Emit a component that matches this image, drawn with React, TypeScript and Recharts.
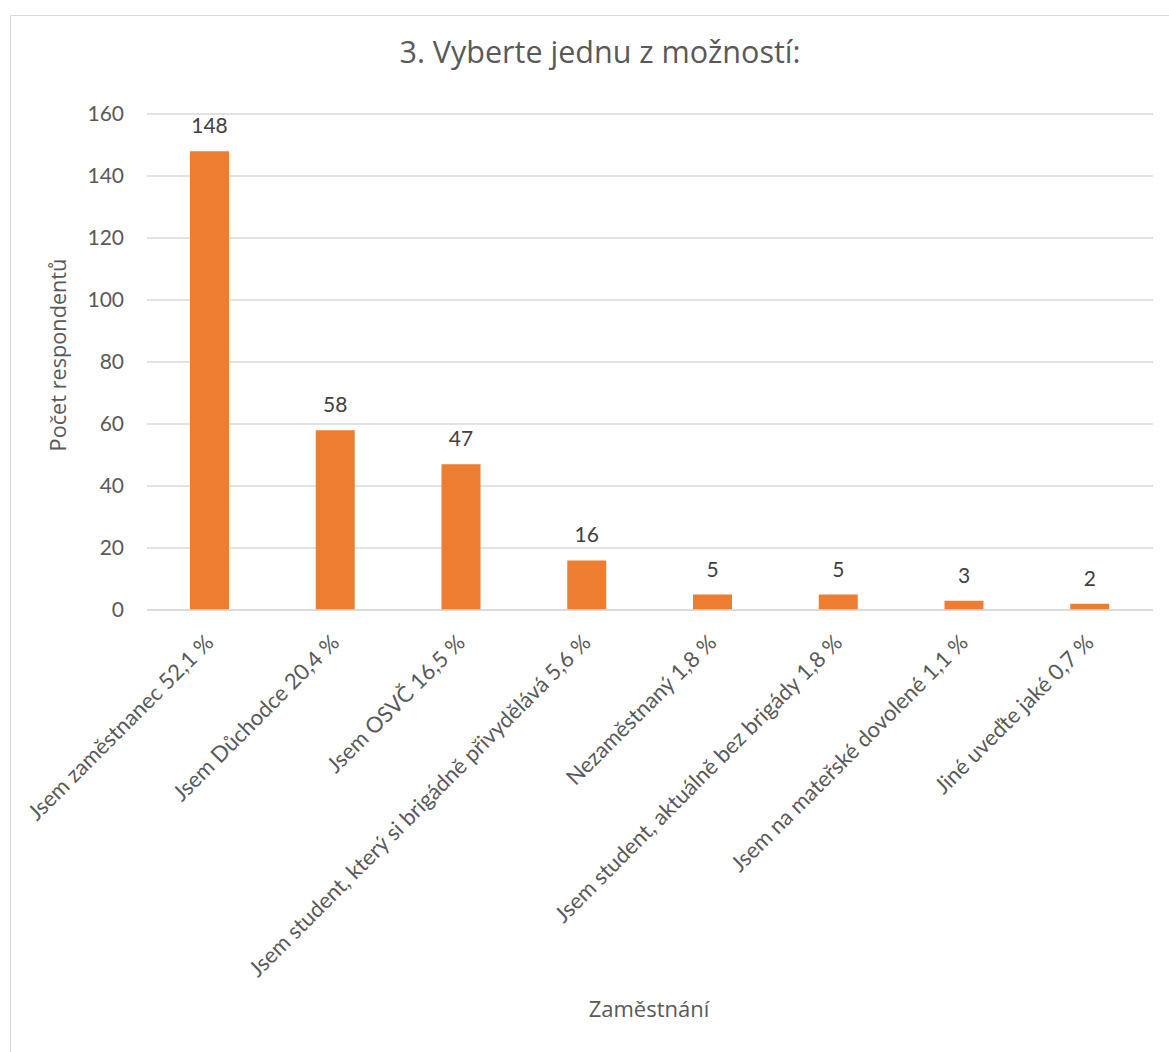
import { BarChart, Bar, XAxis, YAxis, CartesianGrid, LabelList } from 'recharts';

const categories = [
  'Jsem zaměstnanec 52,1 %',
  'Jsem Důchodce 20,4 %',
  'Jsem OSVČ 16,5 %',
  'Jsem student, který si brigádně přivydělává 5,6 %',
  'Nezaměstnaný 1,8 %',
  'Jsem student, aktuálně bez brigády 1,8 %',
  'Jsem na mateřské dovolené 1,1 %',
  'Jiné uveďte jaké 0,7 %',
];
const counts = [148, 58, 47, 16, 5, 5, 3, 2];
const yTicks = [0, 20, 40, 60, 80, 100, 120, 140, 160];

const chartTitle = '3. Vyberte jednu z možností:';
const xTitle = 'Zaměstnání';
const yTitle = 'Počet respondentů';

const data = categories.map((name, i) => ({ name, value: counts[i] }));

const FONT = 'Lato, "Open Sans", sans-serif';
const TITLE_FONT = '"Open Sans", Lato, sans-serif';
const TEXT = '#595959';

function RotatedTick(props: any) {
  const { x, y, payload } = props;
  const tx = x + 5;
  return (
    <text
      x={tx}
      y={y}
      transform={`rotate(-45, ${tx}, ${y})`}
      textAnchor="end"
      fill={TEXT}
      fontSize={22}
      fontFamily={FONT}
    >
      {payload.value}
    </text>
  );
}

export default function App() {
  return (
    <div
      style={{
        position: 'absolute',
        left: 0,
        top: 0,
        width: 1169,
        height: 1052,
        overflow: 'hidden',
        background: '#fff',
      }}
    >
      {/* chart frame, only left and top edges fall inside the picture */}
      <div
        style={{
          position: 'absolute',
          left: 10,
          top: 15,
          width: 1200,
          height: 1100,
          border: '1px solid #d9d9d9',
        }}
      />
      <div style={{ position: 'absolute', left: 0, top: 0 }}>
        <BarChart
          width={1169}
          height={1052}
          data={data}
          margin={{ top: 114, right: 16, bottom: 42, left: 87 }}
        >
          <CartesianGrid vertical={false} stroke="#d9d9d9" strokeWidth={1.5} />
          <XAxis
            dataKey="name"
            height={400}
            interval={0}
            axisLine={{ stroke: '#d9d9d9', strokeWidth: 1.5 }}
            tickLine={false}
            tick={<RotatedTick />}
            tickMargin={28}
          />
          <YAxis
            width={60}
            domain={[0, 160]}
            ticks={yTicks}
            axisLine={false}
            tickLine={false}
            tickMargin={17}
            tick={{ fill: TEXT, fontSize: 21, fontFamily: FONT }}
          />
          <Bar dataKey="value" fill="#ed7d31" barSize={39} isAnimationActive={false}>
            <LabelList
              dataKey="value"
              position="top"
              offset={18}
              fill="#404040"
              fontSize={21}
              fontFamily={FONT}
            />
          </Bar>
        </BarChart>
      </div>
      {/* titles */}
      <svg
        width={1169}
        height={1052}
        style={{ position: 'absolute', left: 0, top: 0, pointerEvents: 'none' }}
      >
        <text x={600} y={63} textAnchor="middle" fill={TEXT} fontSize={30.5} fontFamily={TITLE_FONT}>
          {chartTitle}
        </text>
        <text
          x={66}
          y={355}
          transform="rotate(-90, 66, 355)"
          textAnchor="middle"
          fill={TEXT}
          fontSize={21.7}
          fontFamily={TITLE_FONT}
        >
          {yTitle}
        </text>
        <text x={649} y={1017} textAnchor="middle" fill={TEXT} fontSize={22} fontFamily={TITLE_FONT}>
          {xTitle}
        </text>
      </svg>
    </div>
  );
}
